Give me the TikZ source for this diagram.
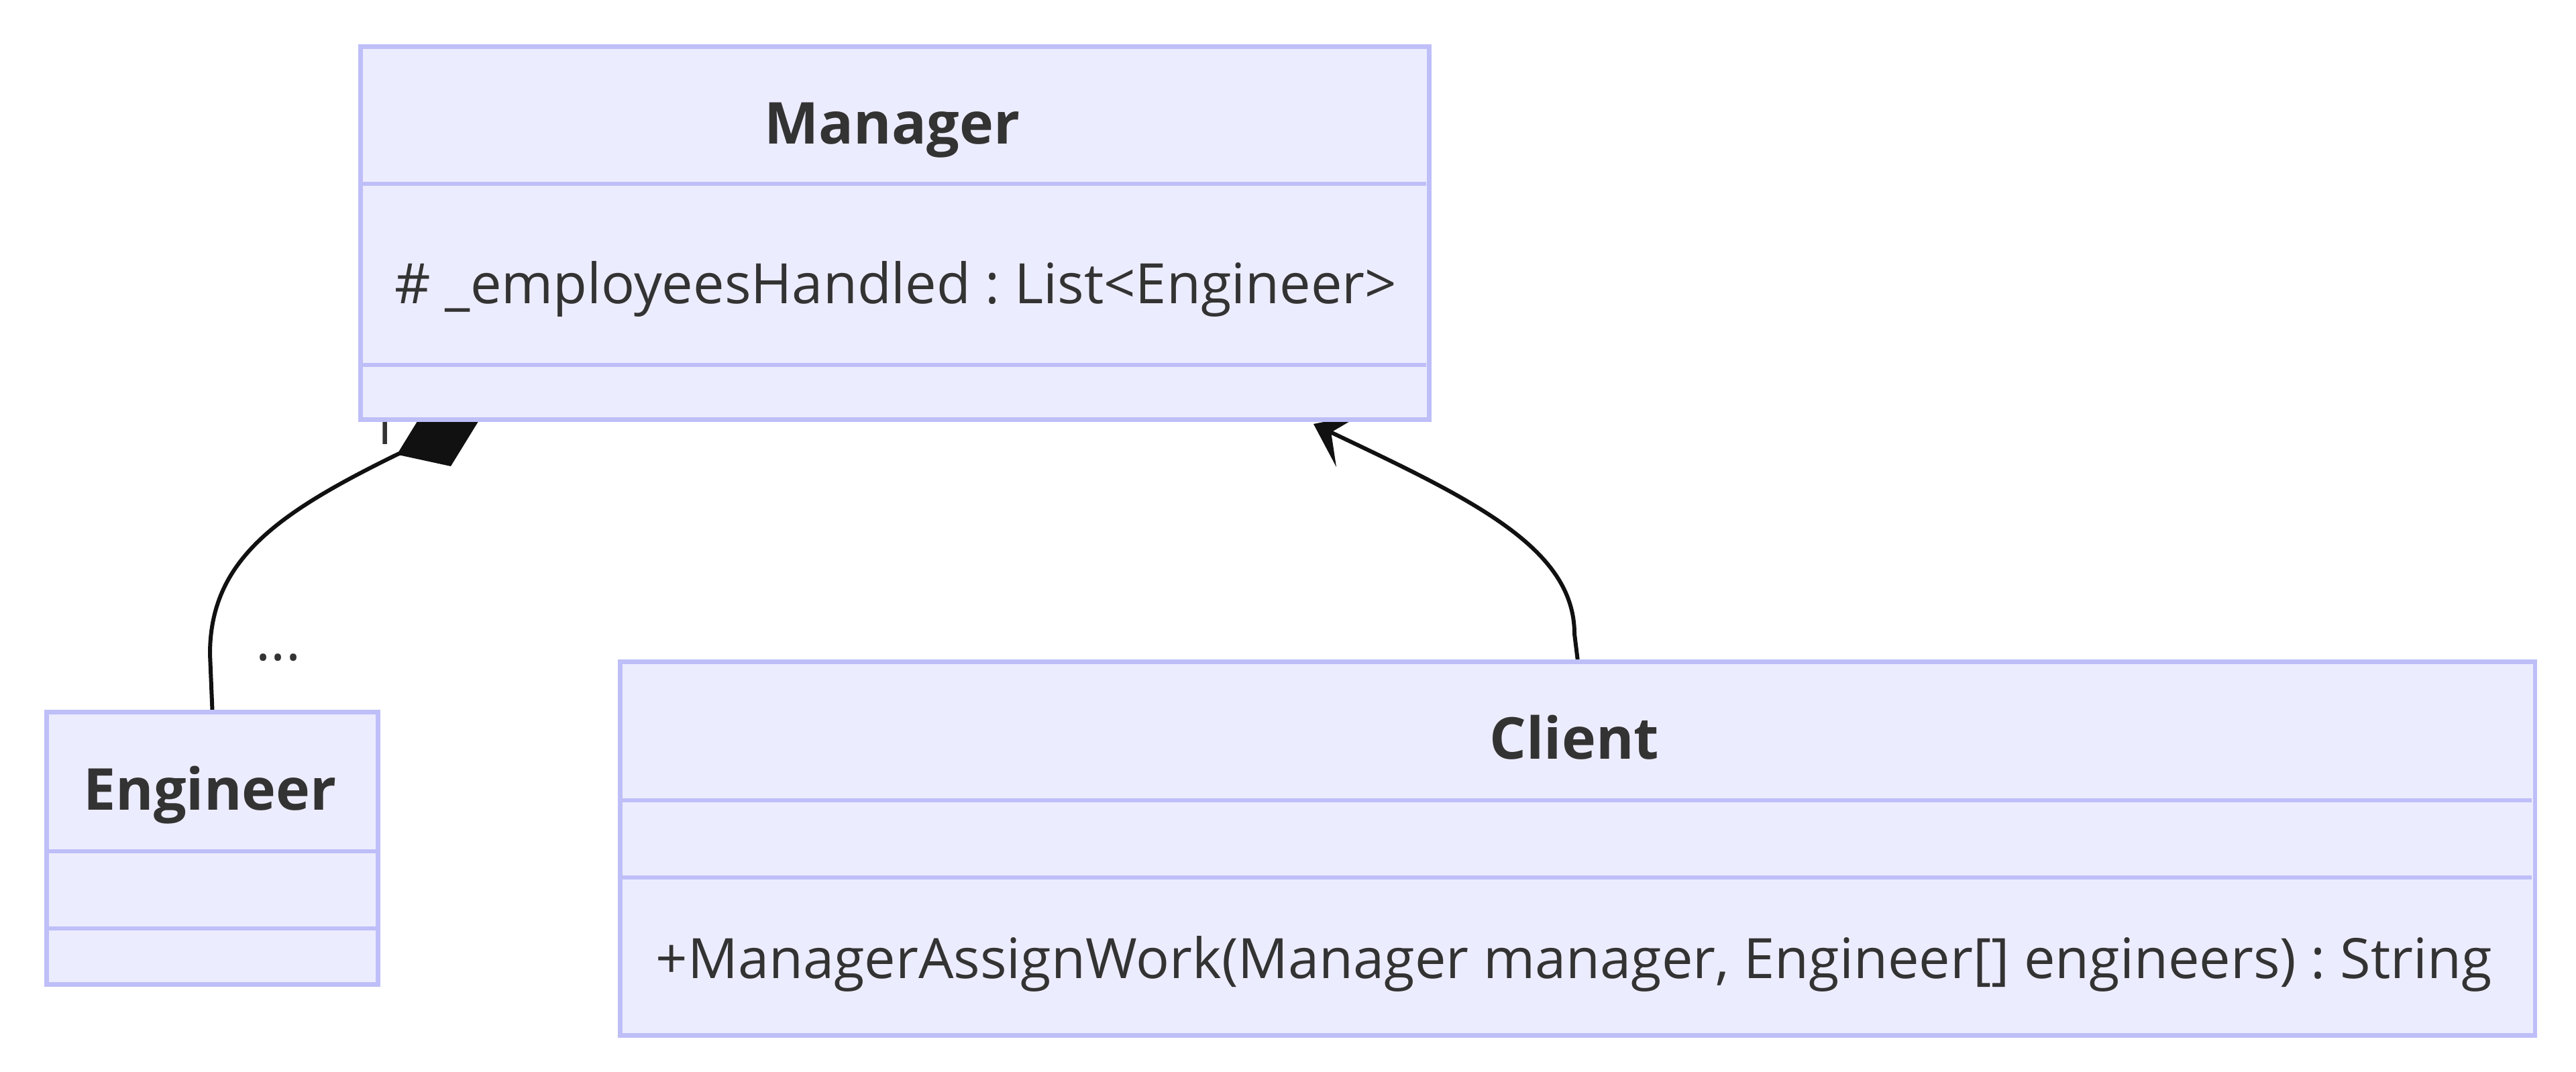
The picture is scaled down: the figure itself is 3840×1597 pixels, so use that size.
\documentclass[tikz,border=0pt]{standalone}
\usepackage{fontspec}
\setmainfont{Open Sans}
\usetikzlibrary{arrows.meta,calc}
\definecolor{boxfill}{HTML}{ECECFF}
\definecolor{boxline}{RGB}{190,190,248}
\definecolor{txt}{HTML}{333333}
\definecolor{edgecol}{HTML}{111111}
\pgfdeclarelayer{bg}
\pgfsetlayers{bg,main}
\frenchspacing
\tikzset{
  classbox/.style={draw=boxline, fill=boxfill, line width=1.9pt, inner sep=0pt, anchor=north west},
  divider/.style={draw=boxline, line width=1.9pt},
  titletext/.style={text=txt, font=\fontsize{24.5}{30}\selectfont\bfseries, anchor=base, inner sep=0pt},
  membertext/.style={text=txt, font=\fontsize{23.6}{28}\selectfont, anchor=base west, inner sep=0pt},
  lbl/.style={text=txt, font=\fontsize{23.6}{28}\selectfont, anchor=base, inner sep=0pt},
  edgeline/.style={draw=edgecol, line width=1.7pt},
}
\begin{document}
\begin{tikzpicture}[x=0.01cm, y=-0.01cm]
\useasboundingbox (0,0) rectangle (3840,1597);
\begin{pgfonlayer}{bg}
\fill[white] (0,0) rectangle (3840,1597);
\end{pgfonlayer}

% Manager
\node[classbox, minimum width=15.92cm, minimum height=5.56cm] (mgr) at (534,66) {};
\draw[divider] (534,274) -- (2126,274);
\draw[divider] (534,544) -- (2126,544);
\node[titletext] (mgrT) at (1330,215) {Manager};
\node[membertext] (mgrA) at (588,452) {\# \_employeesHandled : List<Engineer>};

% Engineer
\node[classbox, minimum width=4.94cm, minimum height=4.06cm] (eng) at (66,1058) {};
\draw[divider] (66,1269) -- (560,1269);
\draw[divider] (66,1384) -- (560,1384);
\node[titletext] (engT) at (313,1207) {Engineer};

% Client
\node[classbox, minimum width=28.53cm, minimum height=5.57cm] (cli) at (921,983) {};
\draw[divider] (921,1193) -- (3774,1193);
\draw[divider] (921,1308) -- (3774,1308);
\node[titletext] (cliT) at (2347,1131) {Client};
\node[membertext] (cliM) at (977,1458) {+ManagerAssignWork(Manager manager, Engineer[] engineers) : String};

% connectors (behind boxes)
\coordinate (compEnd) at ($(mgr.south west)+(181,-4)$);
\coordinate (assocEnd) at ($(mgr.south west)+(1424,3)$);
\begin{pgfonlayer}{bg}
\node[lbl] (one) at (572,662) {1};
\node[lbl] (dots) at (415,984) {...};
\draw[edgeline, -{Diamond[length=1.34cm, width=0.95cm]}]
  (eng.north) -- (313,975) .. controls (313,835) and (413,765) .. (593,677) -- (compEnd);
\draw[edgeline, -{Stealth[length=0.58cm, width=0.86cm, inset=0.29cm]}]
  (cli.north) -- (2347,945) .. controls (2347,815) and (2189,742) .. (assocEnd);
\end{pgfonlayer}
\end{tikzpicture}
\end{document}
